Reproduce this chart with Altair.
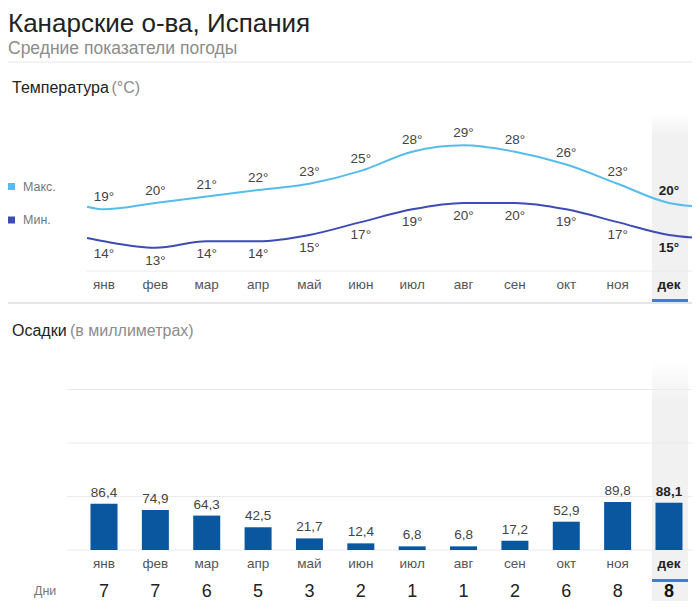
import altair as alt
import pandas as pd

months = ["янв", "фев", "мар", "апр", "май", "июн", "июл", "авг", "сен", "окт", "ноя", "дек"]
t_max = [19, 20, 21, 22, 23, 25, 28, 29, 28, 26, 23, 20]
t_min = [14, 13, 14, 14, 15, 17, 19, 20, 20, 19, 17, 15]
precip = [86.4, 74.9, 64.3, 42.5, 21.7, 12.4, 6.8, 6.8, 17.2, 52.9, 89.8, 88.1]
rain_days = [7, 7, 6, 5, 3, 2, 1, 1, 2, 6, 8, 8]
# line ends visible beyond first/last month
edge_pos = [0.67, 12.45]
edge_max = [19.4, 19.5]
edge_min = [14.5, 14.6]
grid_mm = [0, 100, 200, 300]

FONT = "Liberation Sans"
C_MAX = "#55bdec"
C_MIN = "#3d4cb5"
C_BAR = "#0a569f"
C_SEL = "#3c80d6"

df = pd.DataFrame({"m": list(range(1, 13)), "month": months, "tmax": t_max,
                   "tmin": t_min, "p": precip, "days": rain_days})
line_df = pd.DataFrame({
    "m": [edge_pos[0]] + list(range(1, 13)) + [edge_pos[1]],
    "tmax": [edge_max[0]] + t_max + [edge_max[1]],
    "tmin": [edge_min[0]] + t_min + [edge_min[1]],
})
grid_df = pd.DataFrame({"g": grid_mm})
one = pd.DataFrame({"a": [0]})

XS = alt.Scale(domain=[1, 12], range=[96, 661], nice=False, zero=False, padding=0)
YT = alt.Scale(domain=[10, 32], range=[258.9, 118.1], nice=False, zero=False)
YP = alt.Scale(domain=[0, 350], range=[542, 354.7], nice=False, zero=False, padding=0)

X = alt.X("m:Q", scale=XS, axis=None)


def txt(s, x, y, size, color, weight="normal", align="left", baseline="alphabetic"):
    return alt.Chart(one).mark_text(text=s, fontSize=size, color=color, fontWeight=weight,
                                    align=align, baseline=baseline, font=FONT).encode(
        x=alt.value(x), y=alt.value(y))


def hrule(x1, x2, y, color="#e6e6e6", w=1):
    return alt.Chart(one).mark_rule(color=color, strokeWidth=w).encode(
        x=alt.value(x1), x2=alt.value(x2), y=alt.value(y))


def rect(x1, x2, y1, y2, color):
    return alt.Chart(one).mark_rect(color=color).encode(
        x=alt.value(x1), x2=alt.value(x2), y=alt.value(y1), y2=alt.value(y2))


grad_t = alt.Gradient(gradient="linear", x1=0, x2=0, y1=0, y2=1, stops=[
    alt.GradientStop(color="#ffffff", offset=0),
    alt.GradientStop(color="#f1f1f1", offset=0.12),
    alt.GradientStop(color="#f1f1f1", offset=1)])
grad_p = alt.Gradient(gradient="linear", x1=0, x2=0, y1=0, y2=1, stops=[
    alt.GradientStop(color="#ffffff", offset=0),
    alt.GradientStop(color="#f1f1f1", offset=0.18),
    alt.GradientStop(color="#f1f1f1", offset=1)])

band_t = alt.Chart(one).mark_rect(color=grad_t).encode(
    x=alt.value(644), x2=alt.value(680), y=alt.value(105), y2=alt.value(294))
band_p = alt.Chart(one).mark_rect(color=grad_p).encode(
    x=alt.value(644), x2=alt.value(680), y=alt.value(352), y2=alt.value(593))

base = alt.Chart(df)
normal = base.transform_filter("datum.m != 12")
sel = base.transform_filter("datum.m == 12")

layers = [
    band_t, band_p,
    # headings
    txt("Канарские о-ва, Испания", 0, 23.8, 26, "#222222"),
    txt("Средние показатели погоды", 0, 46, 17.5, "#8c8c8c"),
    hrule(0, 684, 54, "#e8e8e8"),
    txt("Температура", 4, 85, 16, "#222222"),
    txt("(°C)", 103.5, 85, 16, "#8c8c8c"),
    txt("Осадки", 4, 328, 16, "#222222"),
    txt("(в миллиметрах)", 62, 328, 16, "#8c8c8c"),
    # legend
    rect(0, 7, 175, 182, C_MAX),
    rect(0, 7, 208.5, 215.5, C_MIN),
    txt("Макс.", 15, 178.5, 12.5, "#777777", baseline="middle"),
    txt("Мин.", 15, 212, 12.5, "#777777", baseline="middle"),
    # temperature axis / separators
    hrule(78, 684, 263, "#ececec"),
    hrule(0, 684, 295, "#dcdcdc", 1.5),
    # temperature lines
    alt.Chart(line_df).mark_line(color=C_MAX, strokeWidth=2, interpolate="monotone").encode(
        x=X, y=alt.Y("tmax:Q", scale=YT, axis=None)),
    alt.Chart(line_df).mark_line(color=C_MIN, strokeWidth=2, interpolate="monotone").encode(
        x=X, y=alt.Y("tmin:Q", scale=YT, axis=None)),
    # temperature labels
    normal.transform_calculate(lab="datum.tmax + '°'").mark_text(
        fontSize=13.5, color="#444444", baseline="bottom", dy=-5, font=FONT).encode(
        x=X, y=alt.Y("tmax:Q", scale=YT, axis=None), text="lab:N"),
    normal.transform_calculate(lab="datum.tmin + '°'").mark_text(
        fontSize=13.5, color="#444444", baseline="top", dy=6, font=FONT).encode(
        x=X, y=alt.Y("tmin:Q", scale=YT, axis=None), text="lab:N"),
    sel.transform_calculate(lab="datum.tmax + '°'").mark_text(
        fontSize=13.5, color="#222222", fontWeight="bold", baseline="bottom", dy=-5, font=FONT).encode(
        x=X, y=alt.Y("tmax:Q", scale=YT, axis=None), text="lab:N"),
    sel.transform_calculate(lab="datum.tmin + '°'").mark_text(
        fontSize=13.5, color="#222222", fontWeight="bold", baseline="top", dy=6, font=FONT).encode(
        x=X, y=alt.Y("tmin:Q", scale=YT, axis=None), text="lab:N"),
    # temperature month labels
    normal.mark_text(fontSize=13.5, color="#555555", baseline="middle", font=FONT).encode(
        x=X, y=alt.value(277), text="month:N"),
    sel.mark_text(fontSize=13.5, color="#222222", fontWeight="bold", baseline="middle", font=FONT).encode(
        x=X, y=alt.value(277), text="month:N"),
    rect(644, 680, 291, 294, C_SEL),
    # precipitation grid
    alt.Chart(grid_df).mark_rule(color="#ebebeb", strokeWidth=1).encode(
        x=alt.value(59), x2=alt.value(684), y=alt.Y("g:Q", scale=YP, axis=None)),
    # bars
    base.mark_bar(size=27, color=C_BAR).encode(
        x=X, y=alt.Y("p:Q", scale=YP, axis=None)),
    normal.transform_calculate(lab="replace(format(datum.p, '.1f'), '.', ',')").mark_text(
        fontSize=13.5, color="#444444", baseline="bottom", dy=-4, font=FONT).encode(
        x=X, y=alt.Y("p:Q", scale=YP, axis=None), text="lab:N"),
    sel.transform_calculate(lab="replace(format(datum.p, '.1f'), '.', ',')").mark_text(
        fontSize=13.5, color="#222222", fontWeight="bold", baseline="bottom", dy=-4, font=FONT).encode(
        x=X, y=alt.Y("p:Q", scale=YP, axis=None), text="lab:N"),
    # precip month labels
    normal.mark_text(fontSize=13.5, color="#555555", baseline="middle", font=FONT).encode(
        x=X, y=alt.value(556), text="month:N"),
    sel.mark_text(fontSize=13.5, color="#222222", fontWeight="bold", baseline="middle", font=FONT).encode(
        x=X, y=alt.value(556), text="month:N"),
    rect(644, 680, 571, 574, C_SEL),
    # rainy days
    txt("Дни", 26, 583, 12.5, "#777777", baseline="middle"),
    normal.mark_text(fontSize=18, color="#222222", baseline="middle", font=FONT).encode(
        x=X, y=alt.value(584), text="days:N"),
    sel.mark_text(fontSize=18, color="#111111", fontWeight="bold", baseline="middle", font=FONT).encode(
        x=X, y=alt.value(584), text="days:N"),
]

chart = alt.layer(*layers).resolve_scale(y="independent").properties(
    width=684, height=593, autosize=alt.AutoSizeParams(type="none"), padding=0
).configure_view(stroke=None)

chart.save("out.html", embed_options={"renderer": "svg", "actions": False})
